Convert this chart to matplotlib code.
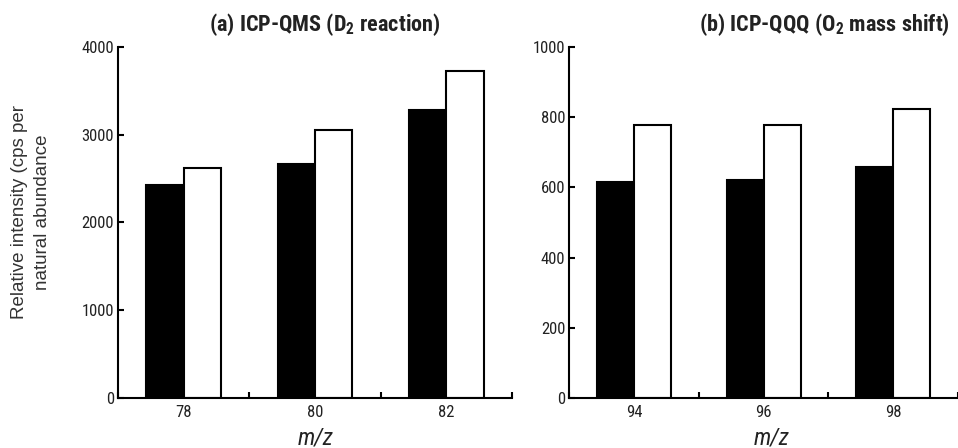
import matplotlib
matplotlib.use('Agg')
import matplotlib.pyplot as plt
from matplotlib import font_manager as fm
import numpy as np

# (a) Se isotopes, ICP-QMS with D2 reaction
se_masses = ['78', '80', '82']
qms_black = [2430, 2670, 3285]
qms_white = [2615, 3050, 3725]

# (b) Mo isotopes, ICP-QQQ with O2 mass shift
mo_masses = ['94', '96', '98']
qqq_black = [615, 620, 657]
qqq_white = [777, 777, 822]

W, H = 958, 448
BAR_W = 0.285
LW = 1.5
TEXT = '#222222'

# pick a condensed face if one is installed
fonts = fm.fontManager.ttflist
names = {f.name for f in fonts}
COND = {'family': 'Liberation Sans', 'fontstretch': 'normal'}
for fam in ('Liberation Sans Narrow', 'Roboto Condensed', 'Open Sans Condensed'):
    if fam in names:
        COND = {'family': fam, 'fontstretch': 'normal'}
        break
else:
    if any(f.name == 'DejaVu Sans' and f.stretch == 'condensed' for f in fonts):
        COND = {'family': 'DejaVu Sans', 'fontstretch': 'condensed'}
    elif any(f.name == 'Roboto' and f.stretch == 'condensed' for f in fonts):
        COND = {'family': 'Roboto', 'fontstretch': 'condensed'}

plt.rcParams['font.family'] = [COND['family'], 'DejaVu Sans']
plt.rcParams['font.stretch'] = COND['fontstretch']
plt.rcParams['mathtext.fontset'] = 'custom'
plt.rcParams['mathtext.bf'] = COND['family'] + ':bold'
plt.rcParams['mathtext.rm'] = COND['family']

TICK_SIZE = 12 if COND['family'] != 'Liberation Sans' else 10


def draw_panel(ax, labels, black, white, ymax, yticks, xmax):
    x = np.arange(len(labels)) + 0.5
    ax.bar(x - BAR_W / 2, black, BAR_W, color='black', edgecolor='black',
           linewidth=LW, zorder=3)
    ax.bar(x + BAR_W / 2, white, BAR_W, color='white', edgecolor='black',
           linewidth=LW, zorder=3)

    ax.set_xlim(0, xmax)
    ax.set_ylim(0, ymax)
    ax.set_xticks(np.arange(0, len(labels) + 1))
    ax.set_xticklabels([])
    ax.set_xticks(x, minor=True)
    ax.set_xticklabels(labels, minor=True)
    ax.set_yticks(yticks)

    for side in ('top', 'right'):
        ax.spines[side].set_visible(False)
    for side in ('left', 'bottom'):
        ax.spines[side].set_linewidth(LW)
        ax.spines[side].set_zorder(4)

    ax.tick_params(axis='both', which='major', direction='in', length=4,
                   width=LW, labelsize=TICK_SIZE, labelcolor=TEXT, pad=3)
    ax.tick_params(axis='x', which='minor', length=0, labelsize=TICK_SIZE,
                   labelcolor=TEXT, pad=5)
    for lab in ax.get_xticklabels(minor=True) + ax.get_yticklabels():
        lab.set_fontstretch(COND['fontstretch'])


fig = plt.figure(figsize=(W / 100, H / 100), dpi=100)

ax1 = fig.add_axes([118 / W, 49.7 / H, 394 / W, 351.6 / H])
draw_panel(ax1, se_masses, qms_black, qms_white, 4000,
           [0, 1000, 2000, 3000, 4000], 3)

ax2 = fig.add_axes([569.3 / W, 49.7 / H, 1 - 569.3 / W, 351.6 / H])
draw_panel(ax2, mo_masses, qqq_black, qqq_white, 1000,
           [0, 200, 400, 600, 800, 1000], (W - 569.3) / 131.9)

title_size = 16 if COND['family'] != 'Liberation Sans' else 13
fig.text(325 / W, 1 - 31 / H, r'(a) ICP-QMS (D$_\mathbf{2}$ reaction)',
         ha='center', va='baseline', fontsize=title_size, fontweight='bold',
         color=TEXT, fontstretch=COND['fontstretch'])
fig.text(950 / W, 1 - 31 / H, r'(b) ICP-QQQ (O$_\mathbf{2}$ mass shift)',
         ha='right', va='baseline', fontsize=title_size, fontweight='bold',
         color=TEXT, fontstretch=COND['fontstretch'])

fig.text(31 / W, 1 - 212 / H, 'Relative intensity (cps per\nnatural abundance',
         rotation=90, ha='center', va='center', multialignment='center',
         family='Liberation Sans', fontstretch='normal', fontsize=13.5,
         color='#333333', linespacing=1.4)

for xc in (316, 772):
    fig.text(xc / W, 1 - 444 / H, 'm/z', ha='center', va='baseline',
             fontsize=17, style='italic', color=TEXT,
             fontstretch=COND['fontstretch'])

fig.savefig('out.png', dpi=100)
